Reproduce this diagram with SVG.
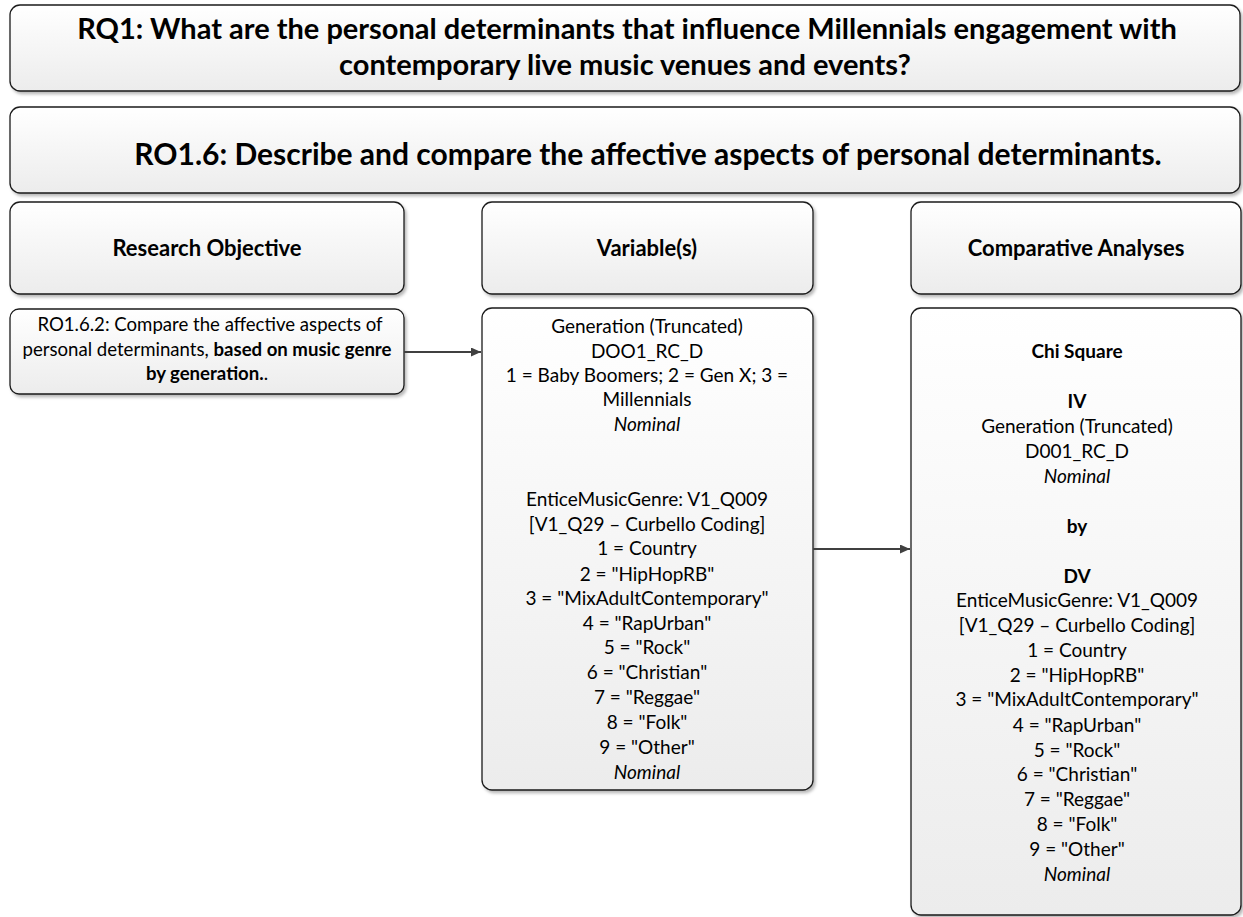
<svg xmlns="http://www.w3.org/2000/svg" width="1243" height="917" viewBox="0 0 1243 917">
  <style>
    .box { fill: url(#boxFill); stroke: #1a1a1a; stroke-width: 1.3; filter: url(#shadow); }
    .t { font-family: Lato, "Liberation Sans", sans-serif; fill: #000; text-anchor: middle; }
    .title { font-size: 29px; font-weight: bold; }
    .title2 { font-size: 30px; font-weight: bold; }
    .head { font-size: 22px; font-weight: bold; }
    .body { font-size: 19px; }
    .small { font-size: 18.6px; }
    .b { font-weight: bold; }
    .i { font-style: italic; }
    .conn { stroke: #404040; stroke-width: 1.8; fill: none; marker-end: url(#arrow); }
  </style>
  <defs>
    <linearGradient id="boxFill" x1="0" y1="0" x2="0" y2="1">
      <stop offset="0" stop-color="#ffffff"/>
      <stop offset="1" stop-color="#ececec"/>
    </linearGradient>
    <filter id="shadow" x="-5%" y="-5%" width="110%" height="115%">
      <feDropShadow dx="2" dy="2.5" stdDeviation="1.5" flood-color="#000" flood-opacity="0.28"/>
    </filter>
    <marker id="arrow" viewBox="0 0 10 10" refX="10" refY="5" markerWidth="10" markerHeight="9" markerUnits="userSpaceOnUse" orient="auto" preserveAspectRatio="none">
      <path d="M0,0 L10,5 L0,10 z" fill="#404040"/>
    </marker>
  </defs>

  <!-- research question -->
  <g id="rq1">
    <rect class="box" x="10" y="5" width="1230" height="86" rx="10"/>
    <text class="t title" x="627" y="39">RQ1: What are the personal determinants that influence Millennials engagement with</text>
    <text class="t title" x="625" y="75">contemporary live music venues and events?</text>
  </g>

  <!-- research objective -->
  <g id="ro16">
    <rect class="box" x="10" y="107" width="1230" height="86" rx="10"/>
    <text class="t title2" x="648" y="165">RO1.6: Describe and compare the affective aspects of personal determinants.</text>
  </g>

  <!-- column headers -->
  <g id="head-objective">
    <rect class="box" x="10" y="202" width="394" height="92" rx="10"/>
    <text class="t head" x="207" y="256">Research Objective</text>
  </g>
  <g id="head-variables">
    <rect class="box" x="482" y="202" width="331" height="92" rx="10"/>
    <text class="t head" x="647" y="256">Variable(s)</text>
  </g>
  <g id="head-analyses">
    <rect class="box" x="911" y="202" width="330" height="92" rx="10"/>
    <text class="t head" x="1076" y="256">Comparative Analyses</text>
  </g>

  <!-- objective detail -->
  <g id="ro162">
    <rect class="box" x="10" y="309" width="394" height="85" rx="9"/>
    <text class="t small" x="210" y="331">RO1.6.2: Compare the affective aspects of</text>
    <text class="t small" x="207" y="356">personal determinants, <tspan class="b">based on music genre</tspan></text>
    <text class="t small" x="207" y="380"><tspan class="b">by generation.</tspan>.</text>
  </g>

  <!-- variables -->
  <g id="variables">
    <rect class="box" x="482" y="308" width="331" height="482" rx="10"/>
    <text class="t body" x="647" y="333">Generation (Truncated)</text>
    <text class="t body" x="647" y="358">DOO1_RC_D</text>
    <text class="t body" x="647" y="382">1 = Baby Boomers; 2 = Gen X; 3 =</text>
    <text class="t body" x="647" y="406">Millennials</text>
    <text class="t body i" x="647" y="431">Nominal</text>
    <text class="t body" x="647" y="506">EnticeMusicGenre: V1_Q009</text>
    <text class="t body" x="647" y="531">[V1_Q29 – Curbello Coding]</text>
    <text class="t body" x="647" y="555">1 = Country</text>
    <text class="t body" x="647" y="581">2 = "HipHopRB"</text>
    <text class="t body" x="647" y="605">3 = "MixAdultContemporary"</text>
    <text class="t body" x="647" y="630">4 = "RapUrban"</text>
    <text class="t body" x="647" y="654">5 = "Rock"</text>
    <text class="t body" x="647" y="679">6 = "Christian"</text>
    <text class="t body" x="647" y="704">7 = "Reggae"</text>
    <text class="t body" x="647" y="729">8 = "Folk"</text>
    <text class="t body" x="647" y="754">9 = "Other"</text>
    <text class="t body i" x="647" y="779">Nominal</text>
  </g>

  <!-- comparative analyses -->
  <g id="analyses">
    <rect class="box" x="911" y="308" width="330" height="607" rx="10"/>
    <text class="t body b" x="1077" y="358">Chi Square</text>
    <text class="t body b" x="1077" y="408">IV</text>
    <text class="t body" x="1077" y="433">Generation (Truncated)</text>
    <text class="t body" x="1077" y="458">D001_RC_D</text>
    <text class="t body i" x="1077" y="483">Nominal</text>
    <text class="t body b" x="1077" y="533">by</text>
    <text class="t body b" x="1077" y="583">DV</text>
    <text class="t body" x="1077" y="607">EnticeMusicGenre: V1_Q009</text>
    <text class="t body" x="1077" y="632">[V1_Q29 – Curbello Coding]</text>
    <text class="t body" x="1077" y="657">1 = Country</text>
    <text class="t body" x="1077" y="682">2 = "HipHopRB"</text>
    <text class="t body" x="1077" y="706">3 = "MixAdultContemporary"</text>
    <text class="t body" x="1077" y="732">4 = "RapUrban"</text>
    <text class="t body" x="1077" y="757">5 = "Rock"</text>
    <text class="t body" x="1077" y="781">6 = "Christian"</text>
    <text class="t body" x="1077" y="806">7 = "Reggae"</text>
    <text class="t body" x="1077" y="831">8 = "Folk"</text>
    <text class="t body" x="1077" y="856">9 = "Other"</text>
    <text class="t body i" x="1077" y="881">Nominal</text>
  </g>

  <!-- connectors -->
  <g id="connectors">
    <line class="conn" x1="404" y1="352" x2="481" y2="352"/>
    <line class="conn" x1="813" y1="549" x2="910" y2="549"/>
  </g>
</svg>
